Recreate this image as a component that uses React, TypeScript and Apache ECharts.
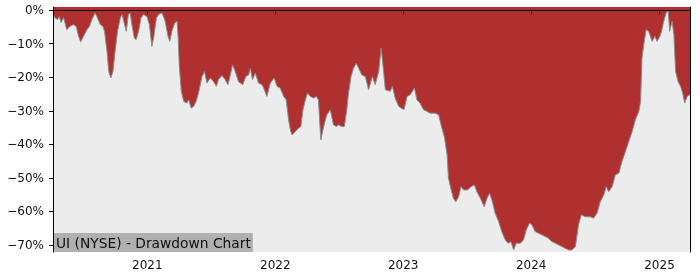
import React, { useEffect, useRef } from "react";
import * as echarts from "echarts";

const dates: string[] = [
  "2020-04-07", "2020-04-13", "2020-04-20", "2020-04-25", "2020-04-30", "2020-05-07", "2020-05-11", "2020-05-16",
  "2020-05-26", "2020-06-04", "2020-06-12", "2020-06-19", "2020-06-25", "2020-07-03", "2020-07-13", "2020-07-20",
  "2020-07-27", "2020-08-05", "2020-08-10", "2020-08-20", "2020-08-27", "2020-09-01", "2020-09-08", "2020-09-13",
  "2020-09-19", "2020-09-25", "2020-10-01", "2020-10-08", "2020-10-16", "2020-10-21", "2020-10-27", "2020-11-02",
  "2020-11-08", "2020-11-13", "2020-11-18", "2020-11-25", "2020-11-30", "2020-12-07", "2020-12-14", "2020-12-21",
  "2020-12-31", "2021-01-07", "2021-01-14", "2021-01-19", "2021-01-27", "2021-02-02", "2021-02-12", "2021-02-21",
  "2021-03-01", "2021-03-06", "2021-03-12", "2021-03-20", "2021-03-27", "2021-03-30", "2021-04-02", "2021-04-08",
  "2021-04-15", "2021-04-24", "2021-04-29", "2021-05-06", "2021-05-13", "2021-05-20", "2021-05-27", "2021-06-06",
  "2021-06-13", "2021-06-20", "2021-06-30", "2021-07-09", "2021-07-17", "2021-07-23", "2021-08-02", "2021-08-11",
  "2021-08-19", "2021-08-26", "2021-09-01", "2021-09-09", "2021-09-18", "2021-09-30", "2021-10-09", "2021-10-17",
  "2021-10-22", "2021-10-28", "2021-11-05", "2021-11-14", "2021-11-24", "2021-11-29", "2021-12-08", "2021-12-18",
  "2021-12-29", "2022-01-06", "2022-01-15", "2022-01-25", "2022-02-01", "2022-02-08", "2022-02-13", "2022-02-18",
  "2022-02-27", "2022-03-08", "2022-03-15", "2022-03-21", "2022-03-28", "2022-04-03", "2022-04-11", "2022-04-20",
  "2022-04-28", "2022-05-04", "2022-05-11", "2022-05-19", "2022-05-28", "2022-06-07", "2022-06-16", "2022-06-24",
  "2022-06-30", "2022-07-10", "2022-07-17", "2022-07-24", "2022-07-29", "2022-08-05", "2022-08-12", "2022-08-20",
  "2022-08-27", "2022-09-05", "2022-09-15", "2022-09-24", "2022-10-05", "2022-10-13", "2022-10-23", "2022-10-30",
  "2022-11-06", "2022-11-11", "2022-11-25", "2022-12-01", "2022-12-09", "2022-12-19", "2023-01-03", "2023-01-12",
  "2023-01-21", "2023-02-02", "2023-02-09", "2023-02-18", "2023-02-28", "2023-03-10", "2023-03-19", "2023-04-02",
  "2023-04-12", "2023-04-19", "2023-04-29", "2023-05-06", "2023-05-10", "2023-05-18", "2023-05-24", "2023-05-31",
  "2023-06-08", "2023-06-15", "2023-06-22", "2023-07-03", "2023-07-14", "2023-07-23", "2023-07-30", "2023-08-09",
  "2023-08-20", "2023-08-28", "2023-09-04", "2023-09-11", "2023-09-20", "2023-09-30", "2023-10-09", "2023-10-19",
  "2023-10-28", "2023-11-04", "2023-11-12", "2023-11-19", "2023-12-01", "2023-12-10", "2023-12-18", "2023-12-27",
  "2024-01-03", "2024-01-12", "2024-01-22", "2024-02-01", "2024-02-10", "2024-02-19", "2024-02-29", "2024-03-10",
  "2024-03-19", "2024-03-29", "2024-04-07", "2024-04-17", "2024-04-26", "2024-05-06", "2024-05-15", "2024-05-23",
  "2024-06-03", "2024-06-18", "2024-06-27", "2024-07-07", "2024-07-16", "2024-07-26", "2024-08-02", "2024-08-09",
  "2024-08-19", "2024-08-28", "2024-09-07", "2024-09-16", "2024-09-26", "2024-10-05", "2024-10-15", "2024-10-24",
  "2024-11-03", "2024-11-08", "2024-11-12", "2024-11-17", "2024-11-24", "2024-12-01", "2024-12-11", "2024-12-19",
  "2024-12-25", "2025-01-02", "2025-01-07", "2025-01-13", "2025-01-20", "2025-01-26", "2025-01-30", "2025-02-06",
  "2025-02-11", "2025-02-16", "2025-02-23", "2025-03-02", "2025-03-08", "2025-03-14", "2025-03-21", "2025-03-29",
];

const drawdown: number[] = [
  -1.3, -2.3, -2.8, -1.9, -3.7, -2.2, -3.7, -5.8,
  -4.8, -4.3, -4.8, -7.8, -9.5, -7.8, -5.8, -4.8,
  -2.8, -0.8, -1.9, -4.3, -4.8, -6.3, -12.3, -18.3,
  -20.2, -18.3, -12.3, -6.3, -2.3, -1.3, -3.8, -6.3,
  -1.3, -0.8, -4.3, -8.3, -8.8, -6.3, -2.3, -1.3,
  -1.9, -4.3, -10.8, -8.3, -2.3, -1.3, -0.8, -3.3,
  -7.8, -9.3, -6.3, -3.8, -3.3, -8.3, -16.3, -24.2,
  -27.2, -27.7, -26.7, -29.2, -28.7, -27.2, -24.7, -19.8,
  -18.3, -21.7, -20.2, -21.3, -22.7, -20.7, -19.5, -20.7,
  -22.2, -19.3, -16.3, -18.3, -21.3, -22.2, -19.8, -19.3,
  -17.3, -20.7, -18.7, -21.7, -22.2, -23.2, -25.7, -21.7,
  -20.2, -22.7, -23.2, -25.7, -26.7, -32.7, -35.7, -37.2,
  -36.2, -35.2, -34.7, -29.7, -26.7, -24.7, -25.7, -26.2,
  -25.7, -26.7, -38.7, -34.7, -31.2, -29.7, -34.2, -34.7,
  -34.2, -34.7, -34.7, -29.7, -24.7, -19.8, -17.3, -15.8,
  -17.3, -19.3, -19.8, -23.7, -19.8, -22.2, -18.3, -11.3,
  -18.3, -23.7, -24.2, -22.7, -26.2, -28.7, -29.7, -25.7,
  -25.2, -23.2, -26.7, -27.7, -29.7, -30.2, -30.7, -30.7,
  -31.2, -34.2, -38.1, -43.1, -50.1, -53.6, -56.1, -57.1,
  -55.6, -52.6, -53.6, -53.6, -52.6, -52.1, -54.1, -56.1,
  -58.6, -56.1, -54.6, -56.6, -60.5, -63.0, -66.0, -68.5,
  -69.5, -69.0, -71.5, -69.5, -69.5, -68.5, -65.5, -63.5,
  -64.0, -66.0, -66.5, -67.0, -67.5, -68.0, -69.0, -69.5,
  -70.0, -70.5, -71.0, -71.5, -71.5, -70.5, -64.0, -61.0,
  -61.6, -61.6, -62.0, -60.5, -57.1, -55.1, -52.6, -54.1,
  -52.6, -49.1, -48.6, -45.1, -42.1, -39.2, -36.2, -32.7,
  -30.2, -27.2, -14.3, -10.3, -5.8, -6.3, -9.3, -7.8,
  -9.3, -7.8, -6.3, -3.3, -0.8, -0.3, -6.3, -3.3,
  -7.3, -18.3, -21.3, -22.7, -24.7, -27.7, -25.7, -25.2,
];

const yearTicks: string[] = ["2021-01-01", "2022-01-01", "2023-01-01", "2024-01-01", "2025-01-01"];
const yTicks: number[] = [0, -10, -20, -30, -40, -50, -60, -70];
const xRange: string[] = ["2020-04-07", "2025-03-29"];
const yRange: number[] = [-72.1, 0.95];
const chartTitle = "UI (NYSE) - Drawdown Chart";

const FONT = "DejaVu Sans";

export default function App() {
  const ref = useRef<HTMLDivElement>(null);

  useEffect(() => {
    if (!ref.current) return;
    const chart = echarts.init(ref.current, undefined, { renderer: "svg" });
    const xMin = Date.parse(xRange[0]);
    const xMax = Date.parse(xRange[1]);
    const data = dates.map((d, i) => [Date.parse(d), drawdown[i]]);
    const fmtY = (v: number) => (v < 0 ? "\u2212" : "") + Math.abs(Math.round(v)) + "%";
    const lineAxis = { show: true, lineStyle: { color: "#000", width: 1 } };

    chart.setOption({
      animation: false,
      grid: {
        left: 53,
        right: 10,
        top: 7,
        bottom: 28,
        show: true,
        backgroundColor: "#ececec",
        borderWidth: 0,
      },
      title: {
        text: chartTitle,
        left: 53,
        top: 233,
        padding: [0, 2, 0, 3],
        backgroundColor: "#b0b0b0",
        textStyle: {
          fontFamily: FONT,
          fontSize: 13.8,
          fontWeight: "normal",
          color: "#111",
          lineHeight: 19,
        },
      },
      xAxis: [
        {
          type: "value",
          min: xMin,
          max: xMax,
          position: "bottom",
          z: 10,
          axisLine: lineAxis,
          axisTick: {
            show: true,
            length: 4,
            lineStyle: { color: "#000" },
            customValues: yearTicks.map((d) => Date.parse(d)),
          },
          axisLabel: {
            show: true,
            margin: 7,
            fontFamily: FONT,
            fontSize: 12,
            color: "#111",
            customValues: yearTicks.map((d) => Date.parse(d)),
            formatter: (v: number) => String(new Date(v).getUTCFullYear()),
          },
          splitLine: { show: false },
        },
        {
          type: "value",
          min: xMin,
          max: xMax,
          position: "top",
          z: 10,
          axisLine: lineAxis,
          axisTick: { show: false },
          axisLabel: { show: false },
          splitLine: { show: false },
        },
      ],
      yAxis: [
        {
          type: "value",
          min: yRange[0],
          max: yRange[1],
          position: "left",
          z: 10,
          axisLine: lineAxis,
          axisTick: {
            show: true,
            length: 4,
            lineStyle: { color: "#000" },
            customValues: yTicks,
          },
          axisLabel: {
            show: true,
            margin: 9,
            fontFamily: FONT,
            fontSize: 12,
            color: "#111",
            customValues: yTicks,
            formatter: fmtY,
          },
          splitLine: { show: false },
        },
        {
          type: "value",
          min: yRange[0],
          max: yRange[1],
          position: "right",
          z: 10,
          axisLine: lineAxis,
          axisTick: { show: false },
          axisLabel: { show: false },
          splitLine: { show: false },
        },
      ],
      series: [
        {
          type: "line",
          xAxisIndex: 0,
          yAxisIndex: 0,
          data,
          showSymbol: false,
          symbol: "none",
          lineStyle: { color: "#8c8c8c", width: 1 },
          areaStyle: { color: "#b03030", opacity: 1, origin: "end" },
          z: 2,
        },
      ],
    });

    return () => {
      chart.dispose();
    };
  }, []);

  return (
    <div
      ref={ref}
      style={{ position: "fixed", left: 0, top: 0, width: 700, height: 280 }}
    />
  );
}
